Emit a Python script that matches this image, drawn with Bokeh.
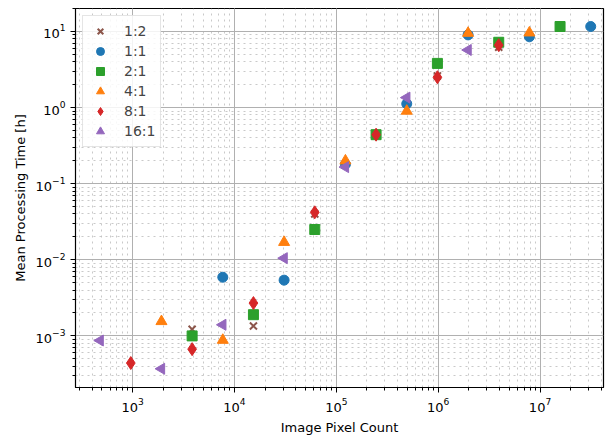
import math
from bokeh.plotting import figure
from bokeh.embed import file_html
from bokeh.resources import INLINE
from bokeh.models import Legend, LegendItem

# Data
x_1_2 = [3840, 15360, 61440, 245760, 983040, 3932160]
y_1_2 = [1.22e-3, 1.35e-3, 0.040, 0.45, 2.6, 6.2]

x_1_1 = [7680, 30720, 122880, 491520, 1966080, 7864320, 31457280]
y_1_1 = [5.9e-3, 5.4e-3, 0.18, 1.12, 9.0, 8.5, 11.6]

x_2_1 = [3840, 15360, 61440, 245760, 983040, 3932160, 15728640]
y_2_1 = [1.0e-3, 1.9e-3, 0.025, 0.44, 3.8, 7.2, 11.6]

x_4_1 = [1920, 7680, 30720, 122880, 491520, 1966080, 7864320]
y_4_1 = [1.55e-3, 8.8e-4, 0.017, 0.20, 0.90, 9.5, 9.6]

x_8_1 = [960, 3840, 15360, 61440, 245760, 983040, 3932160]
y_8_1 = [4.4e-4, 6.7e-4, 2.7e-3, 0.042, 0.44, 2.5, 6.6]

x_16_1 = [480, 1920, 7680, 30720, 122880, 491520, 1966080]
y_16_1 = [8.7e-4, 3.7e-4, 1.4e-3, 0.0105, 0.165, 1.35, 5.7]

labels = ["1:2", "1:1", "2:1", "4:1", "8:1", "16:1"]

p = figure(width=605, height=437, x_axis_type="log", y_axis_type="log",
           x_range=(275, 4.2e7), y_range=(2.1e-4, 20),
           output_backend="svg", toolbar_location=None,
           min_border_left=75, min_border_right=2, min_border_top=8, min_border_bottom=45)

p.outline_line_color = "black"
p.outline_line_width = 1.2
p.background_fill_color = "white"
p.border_fill_color = "white"

for ax in (p.xaxis[0], p.yaxis[0]):
    ax.axis_line_color = "black"
    ax.major_tick_line_color = "black"
    ax.minor_tick_line_color = "black"
    ax.major_tick_out = 5
    ax.major_tick_in = 0
    ax.minor_tick_out = 3
    ax.minor_tick_in = 0
    ax.major_label_text_font = "DejaVu Sans"
    ax.major_label_text_font_size = "13px"
    ax.major_label_text_color = "black"
    ax.axis_label_text_font = "DejaVu Sans"
    ax.axis_label_text_font_size = "13px"
    ax.axis_label_text_font_style = "normal"
    ax.axis_label_text_color = "black"

p.xaxis.axis_label = "Image Pixel Count"
p.yaxis.axis_label = "Mean Processing Time [h]"

p.grid.grid_line_color = "#b0b0b0"
p.grid.grid_line_width = 1
p.grid.minor_grid_line_color = "#bbbbbb"
p.grid.minor_grid_line_dash = "dotted"
p.grid.minor_grid_line_width = 0.8

r1 = p.scatter(x_1_2, y_1_2, marker="x", size=10, line_color="#8c564b", line_width=2)
r2 = p.scatter(x_1_1, y_1_1, marker="circle", size=10, fill_color="#1f77b4", line_color="#1f77b4")
r3 = p.scatter(x_2_1, y_2_1, marker="square", size=10, fill_color="#2ca02c", line_color="#2ca02c")
r4 = p.scatter(x_4_1, y_4_1, marker="triangle", size=11, fill_color="#ff7f0e", line_color="#ff7f0e")
r5 = p.scatter(x_8_1, y_8_1, marker="diamond", size=13, fill_color="#d62728", line_color="#d62728")
r6 = p.scatter(x_16_1, y_16_1, marker="triangle", size=11, angle=math.pi / 2,
               fill_color="#9467bd", line_color="#9467bd")

legend = Legend(items=[LegendItem(label=l, renderers=[r]) for l, r in
                       zip(labels, [r1, r2, r3, r4, r5, r6])],
                location="top_left")
legend.label_text_font = "DejaVu Sans"
legend.label_text_font_size = "14px"
legend.border_line_color = "#cccccc"
legend.background_fill_alpha = 0.85
legend.spacing = 0
legend.label_height = 20
legend.glyph_height = 20
legend.glyph_width = 24
legend.label_standoff = 12
legend.padding = 5
legend.margin = 7
p.add_layout(legend)

open("out.html", "w").write(file_html(p, INLINE))
